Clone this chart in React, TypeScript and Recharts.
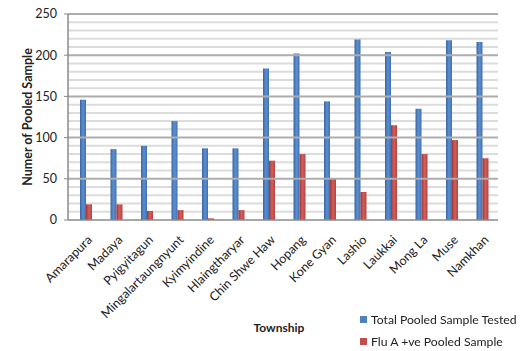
import React from 'react';
import {
  BarChart,
  Bar,
  XAxis,
  YAxis,
  CartesianGrid,
  ReferenceLine,
  Legend,
} from 'recharts';

const townships = [
  'Amarapura',
  'Madaya',
  'Pyigyitagun',
  'Mingalartaungnyunt',
  'Kyimyindine',
  'Hlaingtharyar',
  'Chin Shwe Haw',
  'Hopang',
  'Kone Gyan',
  'Lashio',
  'Laukkai',
  'Mong La',
  'Muse',
  'Namkhan',
];

const totalTested = [146, 86, 90, 120, 87, 87, 184, 202, 144, 219, 204, 135, 218, 216];
const fluAPositive = [19, 19, 11, 12, 2, 12, 72, 80, 50, 34, 115, 80, 97, 75];

const yTicks = [0, 50, 100, 150, 200, 250];
const minorGrid = [10, 20, 30, 40, 60, 70, 80, 90, 110, 120, 130, 140, 160, 170, 180, 190, 210, 220, 230, 240];

const data = townships.map((name, i) => ({
  name,
  total: totalTested[i],
  flu: fluAPositive[i],
}));

const FONT = 'Lato, "Open Sans", "Liberation Sans", sans-serif';

const XTick = (props: any) => {
  const { x, y, payload } = props;
  return (
    <g transform={`translate(${x + 1},${y + 7})`}>
      <text
        x={0}
        y={0}
        dy={8}
        textAnchor="end"
        transform="rotate(-45)"
        fontSize={12.5}
        fontFamily={FONT}
        fill="#222"
      >
        {payload.value}
      </text>
    </g>
  );
};

const LegendBox = () => (
  <div style={{ fontFamily: FONT, fontSize: 12.2, color: '#222' }}>
    <div style={{ display: 'flex', alignItems: 'center', height: 22 }}>
      <span style={{ width: 7, height: 7, background: '#4f81bd', marginRight: 4, display: 'inline-block' }} />
      Total Pooled Sample Tested
    </div>
    <div style={{ display: 'flex', alignItems: 'center', height: 22 }}>
      <span style={{ width: 7, height: 7, background: '#c0504d', marginRight: 4, display: 'inline-block' }} />
      Flu A +ve Pooled Sample
    </div>
  </div>
);

export default function App() {
  return (
    <div style={{ position: 'fixed', left: 0, top: 0, width: 522, height: 351, background: '#fff' }}>
      <BarChart
        width={522}
        height={351}
        data={data}
        margin={{ top: 14, right: 24, bottom: 0, left: 0 }}
        barSize={6}
        barGap={0}
      >
        <defs>
          <linearGradient id="blueBar" x1="0" y1="0" x2="1" y2="0">
            <stop offset="0%" stopColor="#3a65a0" />
            <stop offset="50%" stopColor="#5b8fd2" />
            <stop offset="100%" stopColor="#416fae" />
          </linearGradient>
          <linearGradient id="redBar" x1="0" y1="0" x2="1" y2="0">
            <stop offset="0%" stopColor="#9e3a37" />
            <stop offset="50%" stopColor="#d45d59" />
            <stop offset="100%" stopColor="#b04441" />
          </linearGradient>
        </defs>
        <CartesianGrid
          vertical={false}
          horizontalValues={minorGrid}
          stroke="#dcdcdc"
          strokeWidth={2}
        />
        {yTicks.slice(1).map((v) => (
          <ReferenceLine key={v} y={v} stroke="#adadad" strokeWidth={2} />
        ))}
        <XAxis
          dataKey="name"
          interval={0}
          height={131}
          padding={{ left: 3, right: 0 }}
          tick={<XTick />}
          tickLine={false}
          axisLine={{ stroke: '#8a8a8a', strokeWidth: 1.5 }}
          label={{
            value: 'Township',
            position: 'insideBottom',
            offset: 19,
            dx: -4,
            style: { fontFamily: FONT, fontSize: 12, fontWeight: 700, fill: '#222' },
          }}
        />
        <YAxis
          width={68}
          domain={[0, 250]}
          ticks={yTicks}
          interval={0}
          tickSize={4}
          tickMargin={7}
          tick={{ fontFamily: FONT, fontSize: 12.5, fill: '#222' }}
          tickLine={{ stroke: '#8a8a8a' }}
          axisLine={{ stroke: '#8a8a8a', strokeWidth: 1.5 }}
          label={{
            value: 'Numer of Pooled Sample',
            angle: -90,
            position: 'insideLeft',
            offset: 28,
            style: { textAnchor: 'middle', fontFamily: FONT, fontSize: 12.5, fontWeight: 700, fill: '#222' },
          }}
        />
        <Legend
          layout="vertical"
          align="center"
          verticalAlign="middle"
          content={<LegendBox />}
          wrapperStyle={{ position: 'absolute', left: 360, top: 308, width: 170 }}
        />
        <Bar dataKey="total" name="Total Pooled Sample Tested" fill="url(#blueBar)" isAnimationActive={false} />
        <Bar dataKey="flu" name="Flu A +ve Pooled Sample" fill="url(#redBar)" isAnimationActive={false} />
      </BarChart>
    </div>
  );
}
